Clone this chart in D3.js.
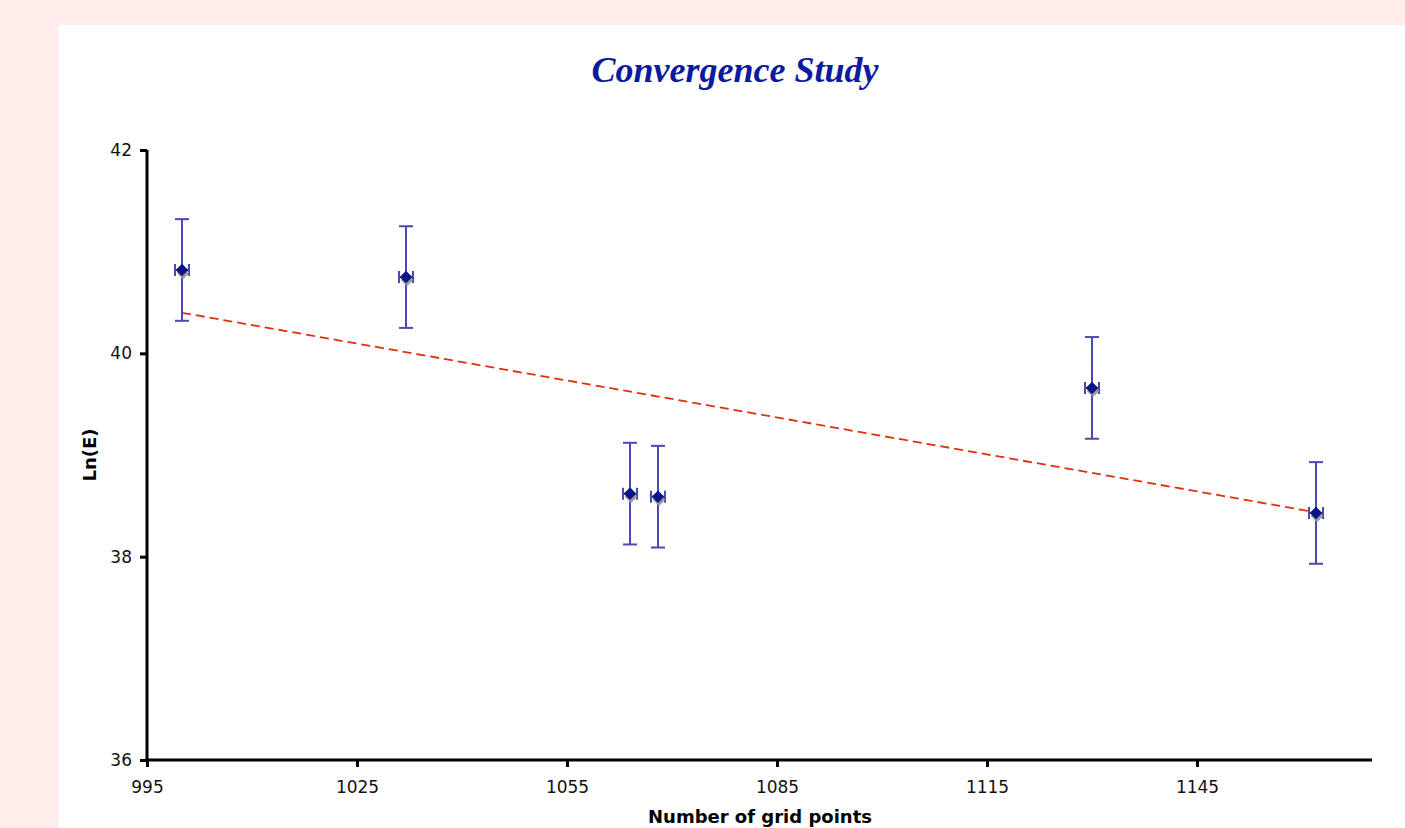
<!DOCTYPE html>
<html><head><meta charset="utf-8">
<script src="https://cdn.jsdelivr.net/npm/d3@7"></script>
<style>html,body{margin:0;padding:0;background:#ffeceb;overflow:hidden}</style>
</head><body>
<svg id="c" width="1405" height="828"></svg>
<script>
const gridPoints = [1000, 1032, 1064, 1068, 1130, 1162];
const lnE = [40.82, 40.75, 38.62, 38.59, 39.66, 38.43];
const yErr = [0.5, 0.5, 0.5, 0.5, 0.5, 0.5];
const xErr = [1, 1, 1, 1, 1, 1];
const xTicks = [995, 1025, 1055, 1085, 1115, 1145];
const yTicks = [36, 38, 40, 42];

const svg = d3.select("#c");
svg.append("rect").attr("width",1405).attr("height",828).attr("fill","#ffeceb");
svg.append("rect").attr("x",59).attr("y",25).attr("width",1346).attr("height",803).attr("fill","#fff");

const x = d3.scaleLinear().domain([995, 1170]).range([147, 1372]);
const y = d3.scaleLinear().domain([36, 42]).range([760, 150]);

const font = "'DejaVu Sans', Verdana, sans-serif";

// title
svg.append("text").attr("x",735).attr("y",82).attr("text-anchor","middle")
  .attr("font-family","'Liberation Serif', 'Times New Roman', serif").attr("font-weight","bold").attr("font-style","italic")
  .attr("font-size",36).attr("fill","#0c1aa0").text("Convergence Study");

// trend line (least squares)
const n = gridPoints.length;
const mx = d3.mean(gridPoints), my = d3.mean(lnE);
let sxy=0,sxx=0;
for(let i=0;i<n;i++){sxy+=(gridPoints[i]-mx)*(lnE[i]-my);sxx+=(gridPoints[i]-mx)**2;}
const slope=sxy/sxx, icpt=my-slope*mx;
const x0=d3.min(gridPoints), x1=d3.max(gridPoints);
svg.append("line").attr("x1",x(x0)).attr("y1",y(icpt+slope*x0)).attr("x2",x(x1)).attr("y2",y(icpt+slope*x1))
  .attr("stroke","#e0300e").attr("stroke-width",1.8).attr("stroke-dasharray","9,5");

// error bars
const eb = svg.append("g").attr("stroke","#4a4ab0").attr("stroke-width",2).attr("fill","none");
gridPoints.forEach((gx,i)=>{
  const cx=x(gx), cy=y(lnE[i]);
  const yt=y(lnE[i]+yErr[i]), yb=y(lnE[i]-yErr[i]);
  eb.append("line").attr("x1",cx).attr("x2",cx).attr("y1",yt).attr("y2",yb);
  eb.append("line").attr("x1",cx-7).attr("x2",cx+7).attr("y1",yt).attr("y2",yt);
  eb.append("line").attr("x1",cx-7).attr("x2",cx+7).attr("y1",yb).attr("y2",yb);
  const xl=x(gx-xErr[i]), xr=x(gx+xErr[i]);
  eb.append("line").attr("x1",xl).attr("x2",xr).attr("y1",cy).attr("y2",cy);
  eb.append("line").attr("x1",xl).attr("x2",xl).attr("y1",cy-6).attr("y2",cy+6);
  eb.append("line").attr("x1",xr).attr("x2",xr).attr("y1",cy-6).attr("y2",cy+6);
});

// markers with shadow
const sym = d3.symbol().type(d3.symbolDiamond2).size(100);
gridPoints.forEach((gx,i)=>{
  svg.append("path").attr("d",sym()).attr("transform",`translate(${x(gx)+1},${y(lnE[i])+3})`).attr("fill","#9a9a9a");
  svg.append("path").attr("d",sym()).attr("transform",`translate(${x(gx)},${y(lnE[i])})`).attr("fill","#0a1585");
});

// axes
const xa = svg.append("g").attr("transform","translate(0,760)")
  .call(d3.axisBottom(x).tickValues(xTicks).tickFormat(d3.format("d")).tickSizeOuter(0).tickSize(7).tickPadding(14));
const ya = svg.append("g").attr("transform","translate(147,0)")
  .call(d3.axisLeft(y).tickValues(yTicks).tickFormat(d3.format("d")).tickSizeOuter(0).tickSize(7).tickPadding(8));
[xa,ya].forEach(a=>{
  a.select(".domain").attr("stroke","#000").attr("stroke-width",3);
  a.selectAll(".tick line").attr("stroke","#000").attr("stroke-width",3);
  a.selectAll(".tick text").attr("font-family",font).attr("font-size",17).attr("fill","#111");
});
xa.select(".domain").attr("d","M145.5,0H1372");
ya.select(".domain").attr("d","M0,150V761.5");

// axis labels
svg.append("text").attr("x",760).attr("y",823).attr("text-anchor","middle").attr("font-family",font)
  .attr("font-weight","bold").attr("font-size",18).attr("fill","#000").text("Number of grid points");
svg.append("text").attr("transform","translate(96,455) rotate(-90)").attr("text-anchor","middle").attr("font-family",font)
  .attr("font-weight","bold").attr("font-size",18).attr("fill","#000").text("Ln(E)");
</script>
</body></html>
